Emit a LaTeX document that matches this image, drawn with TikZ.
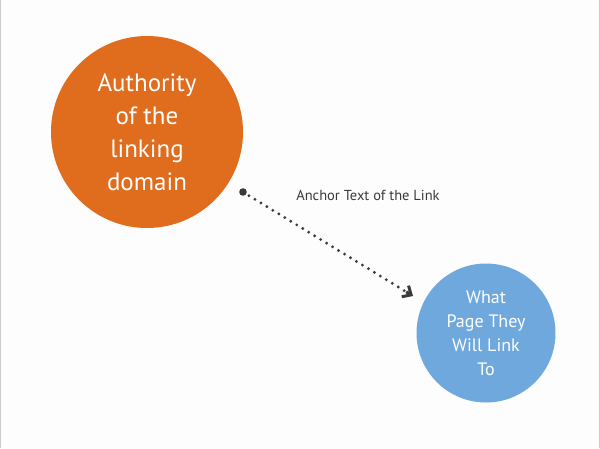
\documentclass[tikz,border=0pt]{standalone}
\usepackage{fontspec}
\setmainfont{PT Sans}
\usetikzlibrary{arrows.meta,calc}
\definecolor{orng}{HTML}{E06C1E}
\definecolor{blu}{HTML}{6FA8DC}
\definecolor{dk}{HTML}{3A3A3A}
\definecolor{bg}{HTML}{FDFDFD}
\begin{document}
\begin{tikzpicture}[x=1pt,y=-1pt,
  bubble/.style={circle,inner sep=0pt,text=white,align=center},
  link/.style={dk,line width=3.2pt,dash pattern=on 0pt off 7pt,line cap=round}]
\useasboundingbox (0,0) rectangle (600,448);
\fill[bg] (0,0) rectangle (600,448);
\draw[gray!40,line width=1pt] (0.5,0) -- (0.5,448) (599.5,0) -- (599.5,448);
\node[bubble,fill=orng,minimum size=192pt,font=\fontsize{25}{33}\selectfont] (auth) at (147,132) {Authority\\of the\\linking\\domain};
\node[bubble,fill=blu,minimum size=139pt,font=\fontsize{18}{24}\selectfont] (page) at (486,333) {What\\Page They\\Will Link\\To};
\coordinate (s) at (243,192);
\coordinate (e) at (413,296);
\fill[dk] (s) circle (3.8pt);
\draw[link] (s) -- ($(s)!0.95!(e)$);
\draw[dk,line width=3pt,-{Straight Barb[length=7pt,width=13pt,line width=3pt]}] ($(s)!0.96!(e)$) -- (e);
\node[dk,font=\fontsize{14.5}{17}\selectfont] (lbl) at (368,195) {Anchor Text of the Link};
\end{tikzpicture}
\end{document}
